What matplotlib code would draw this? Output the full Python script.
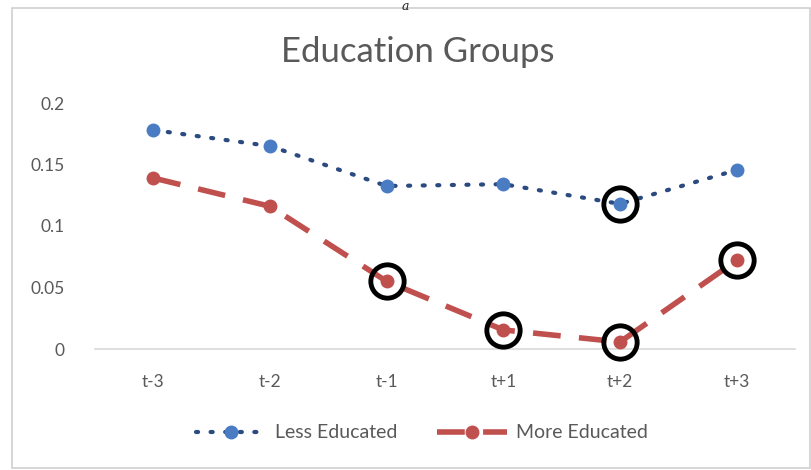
import matplotlib
matplotlib.use("Agg")
import matplotlib.pyplot as plt
from matplotlib.patches import Rectangle

plt.rcParams['font.family'] = ['Lato', 'DejaVu Sans']

categories = ["t-3", "t-2", "t-1", "t+1", "t+2", "t+3"]
less_educated = [0.178, 0.165, 0.1325, 0.134, 0.118, 0.1455]
more_educated = [0.139, 0.116, 0.055, 0.0155, 0.0057, 0.072]
# indices of highlighted points
less_circled = [4]
more_circled = [2, 3, 4, 5]
y_ticks = [0, 0.05, 0.1, 0.15, 0.2]
y_tick_labels = ["0", "0.05", "0.1", "0.15", "0.2"]

W, H = 811, 470
fig = plt.figure(figsize=(W / 100, H / 100), dpi=100)
fig.patch.set_facecolor("white")

# outer chart frame
fig.add_artist(Rectangle((12 / W, 2 / H), (W - 13) / W, 460 / H,
                         transform=fig.transFigure, fill=False,
                         edgecolor="#d0d0d0", linewidth=1.2))
fig.text(405 / W, 1.0 - 0.5 / H, "a", ha="center", va="top",
         fontsize=9, color="#222222", family="DejaVu Serif", style="italic")

ax = fig.add_axes([95 / W, (H - 349) / H, 700 / W, 246 / H])
x = list(range(len(categories)))

blue = "#4a7cc4"
red = "#c0504d"

ax.plot(x, less_educated, color="#2b4a80", linestyle=(0, (0.5, 3.0)),
        linewidth=3.0, dash_capstyle="round", marker="o", markersize=9,
        markerfacecolor=blue, markeredgecolor=blue, clip_on=False,
        label="Less Educated", zorder=3)
ax.plot(x, more_educated, color=red, linestyle=(0, (5, 3.3)),
        linewidth=4, marker="o", markersize=9, markerfacecolor=red,
        markeredgecolor=red, clip_on=False, label="More Educated", zorder=3)

for i in less_circled:
    ax.plot(x[i], less_educated[i], marker="o", markersize=24,
            markerfacecolor="none", markeredgecolor="black",
            markeredgewidth=3.5, clip_on=False, zorder=4)
for i in more_circled:
    ax.plot(x[i], more_educated[i], marker="o", markersize=24,
            markerfacecolor="none", markeredgecolor="black",
            markeredgewidth=3.5, clip_on=False, zorder=4)

ax.set_xlim(-0.5, len(categories) - 0.5)
ax.set_ylim(0, 0.2)
ax.set_xticks(x)
ax.set_xticklabels(categories)
ax.set_yticks(y_ticks)
ax.set_yticklabels(y_tick_labels)
ax.tick_params(axis="both", length=0, labelsize=12.5, colors="#595959")
ax.tick_params(axis="x", pad=18)
ax.tick_params(axis="y", pad=22)
for s in ["top", "right", "left"]:
    ax.spines[s].set_visible(False)
ax.spines["bottom"].set_color("#d9d9d9")
ax.spines["bottom"].set_linewidth(1.2)

fig.text(418 / W, 1 - 52 / H, "Education Groups", ha="center", va="center",
         fontsize=25, color="#595959")

leg = fig.legend(loc="center", bbox_to_anchor=(422 / W, 1 - 433 / H),
                 ncol=2, frameon=False, fontsize=14, handlelength=3.6,
                 columnspacing=2.0, handletextpad=0.5)
for t in leg.get_texts():
    t.set_color("#595959")

fig.savefig("out.png", dpi=100)
